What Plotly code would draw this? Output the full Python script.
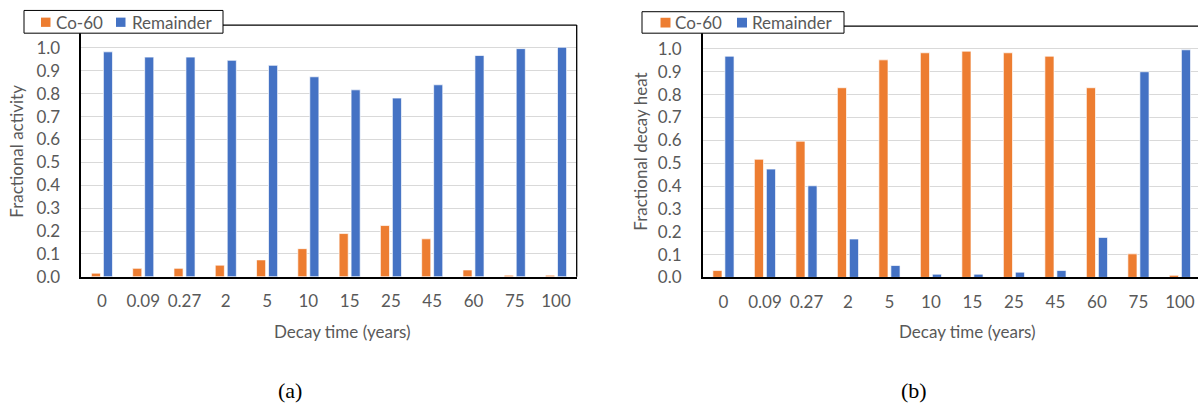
import plotly.graph_objects as go

# Decay times (years) used as categories on both panels
decay_times = ["0", "0.09", "0.27", "2", "5", "10", "15", "25", "45", "60", "75", "100"]

# (a) Fractional activity
activity_co60 = [0.016, 0.037, 0.037, 0.051, 0.074, 0.123, 0.189, 0.224, 0.166, 0.030, 0.007, 0.007]
activity_rest = [0.983, 0.960, 0.960, 0.946, 0.924, 0.874, 0.817, 0.781, 0.839, 0.967, 0.997, 1.003]

# (b) Fractional decay heat
heat_co60 = [0.030, 0.517, 0.596, 0.830, 0.952, 0.983, 0.990, 0.983, 0.968, 0.830, 0.103, 0.009]
heat_rest = [0.968, 0.474, 0.401, 0.168, 0.052, 0.014, 0.014, 0.023, 0.030, 0.175, 0.900, 0.996]

series_names = ["Co-60", "Remainder"]
y_ticks = [0.0, 0.1, 0.2, 0.3, 0.4, 0.5, 0.6, 0.7, 0.8, 0.9, 1.0]

ORANGE = "#ED7D31"
BLUE = "#4472C4"
GREY_TXT = "#595959"
FONT = "Lato"
W, H = 1198, 412


def px_x(px):
    return px / W


def px_y(py):
    return 1 - py / H


fig = go.Figure()

bar_line = dict(color="rgba(255,255,255,0.85)", width=0.8)

panels = [("x", "y", activity_co60, activity_rest), ("x2", "y2", heat_co60, heat_rest)]
for xa, ya, co60, rest in panels:
    fig.add_trace(go.Bar(x=decay_times, y=co60, name=series_names[0], showlegend=False,
                         marker=dict(color=ORANGE, line=bar_line), xaxis=xa, yaxis=ya))
    fig.add_trace(go.Bar(x=decay_times, y=rest, name=series_names[1], showlegend=False,
                         marker=dict(color=BLUE, line=bar_line), xaxis=xa, yaxis=ya))

tick_font = dict(family=FONT, size=17, color=GREY_TXT)

xcommon = dict(type="category", showline=True, linecolor="black", linewidth=2, showgrid=False,
               ticks="", tickfont=tick_font, ticklabelstandoff=8, fixedrange=True)
ycommon = dict(range=[0, 1.1], tickvals=y_ticks, tickformat=".1f", showline=True, linecolor="black",
               linewidth=1.5, showgrid=True, gridcolor="#D9D9D9", gridwidth=1, zeroline=False,
               ticks="", tickfont=tick_font, ticklabelstandoff=16, fixedrange=True)

fig.update_layout(
    width=W, height=H,
    margin=dict(l=0, r=0, t=0, b=0),
    paper_bgcolor="white", plot_bgcolor="white",
    barmode="group", bargap=0.42, bargroupgap=0.24,
    xaxis=dict(domain=[px_x(81.3), px_x(576.7)], range=[-0.5, 11.5], anchor="y", **xcommon),
    yaxis=dict(domain=[px_y(283.7), px_y(25.7)], anchor="x", **ycommon),
    xaxis2=dict(domain=[px_x(702.7), 1.0], range=[-0.5, 11.435], anchor="y2", **xcommon),
    yaxis2=dict(domain=[px_y(284.3), px_y(26.7)], anchor="x2", **ycommon),
    showlegend=False,
)

# Frame lines: top and right edge of the left panel, top edge of the right panel
frame = dict(color="black", width=1.3)
fig.add_shape(type="line", xref="x domain", yref="y domain", x0=0, x1=1, y0=1, y1=1, line=frame)
fig.add_shape(type="line", xref="x domain", yref="y domain", x0=1, x1=1, y0=0, y1=1, line=frame)
fig.add_shape(type="line", xref="x2 domain", yref="y2 domain", x0=0, x1=1, y0=1, y1=1, line=frame)

# Series keys, framed, sitting across the top edge of each panel
legend_font = dict(family=FONT, size=17, color=GREY_TXT)
keys = [
    # box (x0, x1, y0, y1), swatch left edges, text left edges, swatch size, row centre
    dict(box=(24, 223, 10.7, 34), sw=(41, 116), tx=(55, 130.5), size=9.5, cy=22.8),
    dict(box=(642, 844, 12, 34), sw=(660.5, 737), tx=(673.5, 750.5), size=10, cy=23.2),
]
for k in keys:
    x0, x1, y0, y1 = k["box"]
    fig.add_shape(type="rect", xref="paper", yref="paper", layer="above",
                  x0=px_x(x0), x1=px_x(x1), y0=px_y(y1), y1=px_y(y0),
                  fillcolor="white", line=dict(color="black", width=1))
    for sx, tx, name, color in zip(k["sw"], k["tx"], series_names, [ORANGE, BLUE]):
        s = k["size"]
        fig.add_shape(type="rect", xref="paper", yref="paper", layer="above",
                      x0=px_x(sx), x1=px_x(sx + s), y0=px_y(k["cy"] + s / 2), y1=px_y(k["cy"] - s / 2),
                      fillcolor=color, line=dict(width=0))
        fig.add_annotation(text=name, xref="paper", yref="paper", x=px_x(tx), y=px_y(k["cy"]),
                           xanchor="left", yanchor="middle", showarrow=False, font=legend_font,
                           borderpad=0)

title_font = dict(family=FONT, size=17, color=GREY_TXT)
annotations = [
    dict(text="Fractional activity", x=px_x(16.5), y=px_y(155), textangle=-90, font=title_font),
    dict(text="Fractional decay heat", x=px_x(640.5), y=px_y(156), textangle=-90, font=title_font),
    dict(text="Decay time (years)", x=px_x(342.6), y=px_y(340), font=title_font),
    dict(text="Decay time (years)", x=px_x(967), y=px_y(340), font=title_font),
    dict(text="(a)", x=px_x(289.5), y=px_y(400), font=dict(family="Liberation Serif", size=22, color="black")),
    dict(text="(b)", x=px_x(914), y=px_y(400), font=dict(family="Liberation Serif", size=22, color="black")),
]
for a in annotations:
    fig.add_annotation(xref="paper", yref="paper", showarrow=False, xanchor="center", yanchor="middle", **a)

fig.write_html("out.html")
